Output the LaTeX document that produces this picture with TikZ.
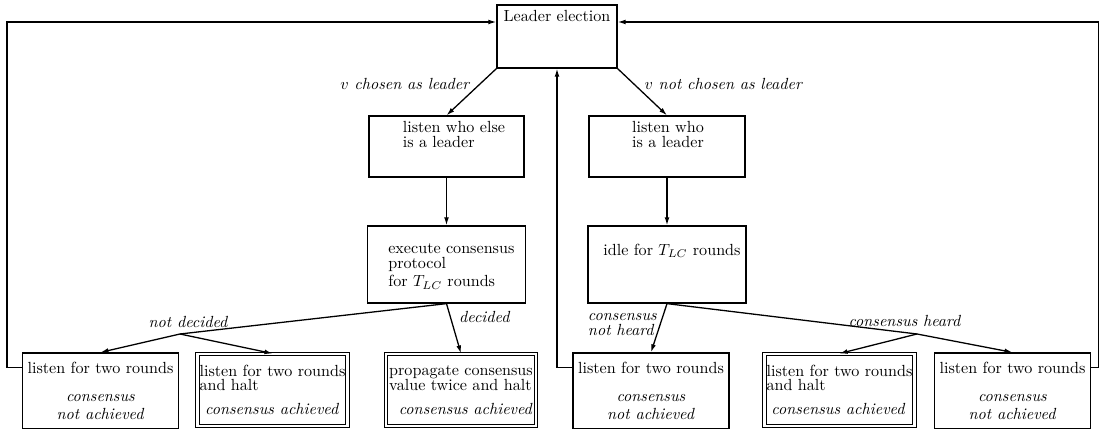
\documentclass[tikz,border=0pt]{standalone}
\usepackage{amsmath}
\usetikzlibrary{arrows.meta}
\newdimen\pxu \pxu=0.6203pt
\tikzset{
  box/.style={draw, line width=0.8pt, align=center, inner sep=0pt, minimum width=156\pxu, minimum height=76\pxu},
  dbox/.style={draw, line width=0.6pt, double, double distance=1.6pt, align=left, inner sep=0pt, minimum width=150\pxu, minimum height=72\pxu},
  txt/.style={inner sep=0pt},
  arr/.style={line width=0.8pt, -{Latex[length=5pt,width=3pt]}},
  lbl/.style={font=\itshape, inner sep=1pt},
}
\begin{document}
\begin{tikzpicture}[x=0.0218cm, y=-0.0218cm]
  \useasboundingbox (0,0) rectangle (1100,429);
  % leader election and the two middle columns
  \node[box, minimum width=120\pxu, minimum height=63\pxu] (lead) at (557,36.5) {};
  \node[txt, anchor=base] (leadt) at (557,21.5) {Leader election};
  \node[box, minimum width=155\pxu, minimum height=61\pxu] (who1) at (446.5,146.5) {};
  \node[txt, anchor=north west, align=left] (who1t) at (402.5,121.3) {listen who else\\[-2.7pt]is a leader};
  \node[box, minimum width=156\pxu, minimum height=61\pxu] (who2) at (667,146.5) {};
  \node[txt, anchor=north, align=center] (who2t) at (668,121.3) {listen who\\[-2.7pt]is a leader};
  \node[box, minimum width=158\pxu, minimum height=77\pxu] (exe) at (446.5,264.5) {};
  \node[txt, anchor=north west, align=left] (exet) at (388,243.6) {execute consensus\\[-3pt]protocol\\[-0.5pt]for $T_{LC}$ rounds};
  \node[box, minimum width=158\pxu, minimum height=77\pxu] (idle) at (667,264.5) {};
  \node[txt, anchor=base west] (idlet) at (603,255.5) {idle for $T_{LC}$ rounds};
  % bottom row
  \node[box] (la) at (100.5,391) {listen for two rounds\\[5.5pt]\textit{consensus}\\[-1pt]\textit{not achieved}};
  \node[dbox] (lb) at (272.5,390) {listen for two rounds\\[-3pt]and halt\\[3pt]\hspace*{3.5pt}\textit{consensus achieved}};
  \node[dbox] (lc) at (461,390) {propagate consensus\\[-3pt]value twice and halt\\[3pt]\hspace*{6pt}\textit{consensus achieved}};
  \node[box] (ld) at (651,391) {listen for two rounds\\[5.5pt]\textit{consensus}\\[-1pt]\textit{not achieved}};
  \node[dbox] (le) at (839.5,390) {listen for two rounds\\[-3pt]and halt\\[3pt]\hspace*{3pt}\textit{consensus achieved}};
  \node[box] (lf) at (1012.5,391) {listen for two rounds\\[5.5pt]\textit{consensus}\\[-1pt]\textit{not achieved}};
  \coordinate (nd) at (180,334);
  \coordinate (ch) at (917,334);
  % connectors
  \draw[arr] (lead.south west) -- node[lbl, above left] {$v$ chosen as leader} (who1.north);
  \draw[arr] (lead.south east) -- node[lbl, above right] {$v$ not chosen as leader} (who2.north);
  \draw[arr] (who1.south) -- (exe.north);
  \draw[arr] (who2.south) -- (idle.north);
  \draw[line width=0.8pt] (exe.south) -- node[lbl, pos=0.97, above, inner sep=3pt] {not decided} (nd);
  \draw[arr] (nd) -- (la.north);
  \draw[arr] (nd) -- (lb.north);
  \draw[arr] (exe.south) -- node[lbl, above right, inner sep=3pt] {decided} (lc.north);
  \draw[arr] (idle.south) -- node[lbl, left, align=left, yshift=2pt] {consensus\\[-3pt]not heard} (ld.north);
  \draw[line width=0.8pt] (idle.south) -- node[lbl, pos=0.95, above, inner sep=3pt] {consensus heard} (ch);
  \draw[arr] (ch) -- (le.north);
  \draw[arr] (ch) -- (lf.north);
  % back to leader election
  \draw[arr] ([yshift=14.6pt]la.west) -- ++(-15,0) |- ([yshift=9pt]lead.west);
  \draw[arr] ([yshift=14.6pt]lf.east) -- ++(7,0) |- ([yshift=9pt]lead.east);
  \draw[arr] ([yshift=14.6pt]ld.west) -| (lead.south);
\end{tikzpicture}
\end{document}
